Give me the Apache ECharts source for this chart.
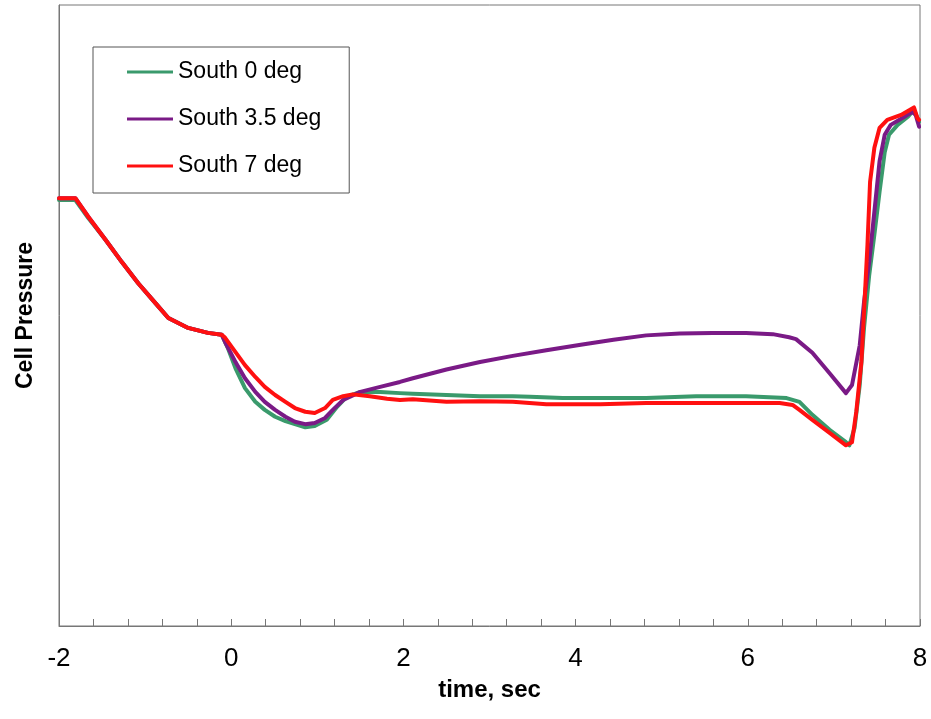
<!DOCTYPE html>
<html>
<head>
<meta charset="utf-8">
<script src="https://cdn.jsdelivr.net/npm/echarts@6/dist/echarts.min.js"></script>
<style>
html,body{margin:0;padding:0;background:#fff;}
#chart{width:931px;height:719px;}
</style>
</head>
<body>
<div id="chart"></div>
<script>
// time (sec), cell pressure (relative units)
const seriesNames = ['South 0 deg', 'South 3.5 deg', 'South 7 deg'];
const xTicks = [-2, 0, 2, 4, 6, 8];

const south0 = [
  [-2.00,68.6],[-1.81,68.6],[-1.66,65.7],[-1.46,62.2],[-1.27,58.6],[-1.08,55.2],[-0.88,52.0],[-0.73,49.6],
  [-0.50,48.0],[-0.27,47.2],[-0.11,46.9],[-0.04,44.8],[0.05,41.5],[0.16,38.3],[0.28,36.1],[0.39,34.8],
  [0.51,33.7],[0.63,33.0],[0.74,32.5],[0.86,32.0],[0.97,32.2],[1.11,33.2],[1.23,35.3],[1.34,36.9],
  [1.50,37.7],[1.73,37.7],[1.96,37.5],[2.11,37.4],[2.50,37.2],[2.89,37.0],[3.27,37.0],[3.47,36.9],
  [3.85,36.7],[4.29,36.7],[4.82,36.7],[5.40,37.0],[5.98,37.0],[6.45,36.7],[6.60,36.1],[6.75,34.0],
  [6.95,31.6],[7.14,29.6],[7.18,29.1],[7.24,31.9],[7.30,38.8],[7.35,48.0],[7.41,56.5],[7.47,63.0],
  [7.53,69.9],[7.59,76.3],[7.64,79.1],[7.74,80.7],[7.86,82.0],[7.93,83.1],[7.99,81.2]
];
const south35 = [
  [-2.00,68.9],[-1.81,68.9],[-1.66,65.9],[-1.46,62.2],[-1.27,58.6],[-1.08,55.2],[-0.88,52.0],[-0.73,49.6],
  [-0.50,48.0],[-0.27,47.2],[-0.11,46.9],[-0.07,45.7],[0.05,42.5],[0.16,39.9],[0.28,37.7],[0.39,36.1],
  [0.51,34.8],[0.63,33.7],[0.74,32.9],[0.86,32.5],[0.97,32.7],[1.09,33.5],[1.18,34.8],[1.30,36.4],
  [1.50,37.7],[1.73,38.5],[1.96,39.3],[2.11,39.9],[2.50,41.3],[2.89,42.5],[3.27,43.5],[3.66,44.4],
  [4.06,45.3],[4.44,46.1],[4.82,46.8],[5.21,47.1],[5.59,47.2],[5.98,47.2],[6.29,47.0],[6.48,46.5],
  [6.56,46.2],[6.75,44.0],[6.95,40.7],[7.14,37.5],[7.16,37.5],[7.21,38.8],[7.30,45.2],[7.35,52.2],
  [7.41,58.7],[7.47,66.7],[7.53,74.8],[7.59,79.1],[7.66,80.7],[7.82,82.0],[7.91,82.8],[7.95,82.3],
  [7.99,80.4]
];
const south7 = [
  [-2.00,68.9],[-1.81,68.9],[-1.66,65.9],[-1.46,62.2],[-1.27,58.6],[-1.08,55.2],[-0.88,52.0],[-0.73,49.6],
  [-0.50,48.0],[-0.27,47.2],[-0.11,46.9],[-0.07,46.4],[0.05,44.1],[0.16,42.0],[0.28,40.1],[0.39,38.5],
  [0.51,37.2],[0.63,36.1],[0.74,35.1],[0.86,34.5],[0.97,34.3],[1.09,35.1],[1.18,36.4],[1.30,37.0],
  [1.41,37.3],[1.61,37.0],[1.81,36.6],[1.96,36.4],[2.11,36.5],[2.50,36.1],[2.89,36.2],[3.27,36.1],
  [3.66,35.7],[4.06,35.7],[4.29,35.7],[4.82,35.9],[5.59,35.9],[6.37,35.9],[6.52,35.6],[6.60,34.8],
  [6.75,33.2],[6.95,31.1],[7.14,29.1],[7.16,28.9],[7.21,29.6],[7.26,34.5],[7.32,42.6],[7.35,50.6],
  [7.39,61.4],[7.42,71.5],[7.47,77.0],[7.53,80.2],[7.62,81.5],[7.78,82.3],[7.93,83.5],[7.97,81.8],
  [7.99,81.5]
];
const colors = ['#3a9a6c', '#7a1a86', '#ff1010'];

const chart = echarts.init(document.getElementById('chart'), null, {renderer: 'canvas'});
const font = '"Liberation Sans", Arial, sans-serif';
const lineSeries = [south0, south35, south7].map((d, i) => ({
  name: seriesNames[i],
  type: 'line',
  data: d,
  showSymbol: false,
  smooth: false,
  lineStyle: {color: colors[i], width: 4, join: 'round', cap: 'round'},
  itemStyle: {color: colors[i]},
  z: 2 + i
}));

chart.setOption({
  animation: false,
  backgroundColor: '#ffffff',
  grid: {left: 59, right: 11, top: 5, bottom: 93, show: true, borderColor: '#777', borderWidth: 1},
  legend: {
    orient: 'vertical',
    left: 93, top: 47,
    icon: 'rect',
    itemWidth: 46, itemHeight: 3,
    itemGap: 21,
    padding: [12, 28, 14, 34],
    borderColor: '#555', borderWidth: 1,
    backgroundColor: '#fff',
    textStyle: {fontFamily: font, fontSize: 23, color: '#000', lineHeight: 26},
    data: seriesNames
  },
  xAxis: {
    type: 'value',
    min: xTicks[0], max: xTicks[xTicks.length - 1], interval: 2,
    name: 'time, sec',
    nameLocation: 'middle',
    nameGap: 52,
    nameTextStyle: {fontFamily: font, fontSize: 24, fontWeight: 'bold', color: '#000'},
    axisLine: {show: true, onZero: false, lineStyle: {color: '#777', width: 1}},
    axisTick: {show: true, inside: true, length: 7, lineStyle: {color: '#777'}},
    minorTick: {show: true, splitNumber: 5, length: 7, lineStyle: {color: '#777'}},
    axisLabel: {fontFamily: font, fontSize: 26, color: '#000', margin: 20},
    splitLine: {show: false}
  },
  yAxis: {
    type: 'value',
    min: 0, max: 100,
    name: 'Cell Pressure',
    nameLocation: 'middle',
    nameGap: 22,
    nameTextStyle: {fontFamily: font, fontSize: 23, fontWeight: 'bold', color: '#000'},
    axisLine: {show: true, onZero: false, lineStyle: {color: '#777'}},
    axisTick: {show: false},
    axisLabel: {show: false},
    splitLine: {show: false}
  },
  series: lineSeries
});
</script>
</body>
</html>
